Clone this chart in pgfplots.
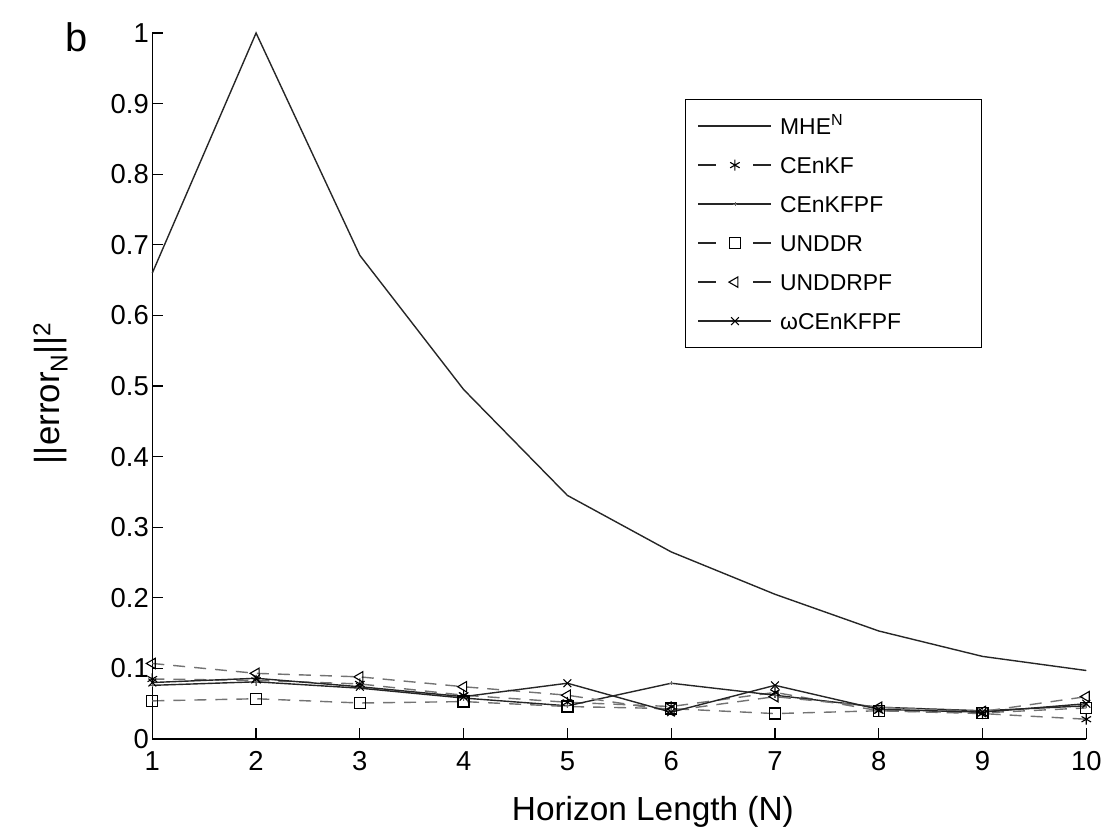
\documentclass[border=0pt]{standalone}
\usepackage{fontspec}
\setmainfont{Liberation Sans}
\usepackage{pgfplots}
\pgfplotsset{compat=1.18}
\begin{document}
\begin{tikzpicture}
\begin{axis}[
  scale only axis, width=934bp, height=706bp,
  xmin=1, xmax=10, ymin=0, ymax=1,
  clip=false,
  axis x line*=bottom, axis y line*=left,
  axis line style={black, line width=1.2bp, -},
  xtick={1,2,3,4,5,6,7,8,9,10},
  ytick={0,0.1,0.2,0.3,0.4,0.5,0.6,0.7,0.8,0.9,1},
  yticklabels={0,0.1,0.2,0.3,0.4,0.5,0.6,0.7,0.8,0.9,1},
  tick align=inside, major tick length=11bp,
  tick style={black, line width=1.2bp},
  /pgf/number format/assume math mode=true,
  tick label style={font=\fontsize{27.5}{30}\selectfont},
  xticklabel style={yshift=-9bp},
  xlabel={Horizon Length (N)},
  every axis x label/.style={at={(rel axis cs:0.536,-0.103)}, anchor=center, font=\fontsize{33.5}{38}\selectfont},
  ylabel={||error\textsubscript{N}||\textsuperscript{2}},
  every axis y label/.style={at={(rel axis cs:-0.109,0.49)}, rotate=90, anchor=center, font=\fontsize{35}{38}\selectfont},
  legend style={at={(rel axis cs:0.5705,0.9065)}, anchor=north west, draw=black, line width=1.2bp,
    fill=white, inner xsep=12bp, inner ysep=18.25bp, row sep=22.5bp,
    font=\fontsize{23}{27}\selectfont,
    nodes={inner sep=0pt, text height=16.5bp, text depth=0bp},
    /tikz/every odd column/.append style={column sep=8bp}},
  legend cell align=left,
  legend image code/.code={\draw[mark repeat=2,mark phase=2,#1] plot coordinates {(0bp,0bp)(36.5bp,0bp)(73bp,0bp)};},
]
\addplot[black!85, line width=1.4bp] coordinates {
(1,0.66)(2,1.0)(3,0.685)(4,0.495)(5,0.345)(6,0.265)(7,0.205)(8,0.153)(9,0.117)(10,0.097)};
\addlegendentry{\makebox[189bp][l]{MHE\textsuperscript{N}}}
\addplot[black!55, line width=1.4bp, dash pattern=on 12bp off 9bp, mark=asterisk, mark size=5.5bp, mark options={solid, black, line width=1.1bp},
  legend image post style={black!85, dash pattern=on 18bp off 37bp}] coordinates {
(1,0.085)(2,0.083)(3,0.078)(4,0.062)(5,0.052)(6,0.046)(7,0.066)(8,0.040)(9,0.036)(10,0.028)};
\addlegendentry{\makebox[189bp][l]{CEnKF}}
\addplot[black!85, line width=1.4bp, mark=+, mark size=2bp, mark options={solid, black!60, line width=0.8bp}] coordinates {
(1,0.076)(2,0.081)(3,0.072)(4,0.058)(5,0.047)(6,0.079)(7,0.062)(8,0.045)(9,0.040)(10,0.047)};
\addlegendentry{\makebox[189bp][l]{CEnKFPF}}
\addplot[black!55, line width=1.4bp, dash pattern=on 12bp off 9bp, mark=square, mark size=5.5bp, mark options={solid, black, line width=1.3bp},
  legend image post style={black!85, dash pattern=on 18bp off 37bp}] coordinates {
(1,0.054)(2,0.057)(3,0.051)(4,0.053)(5,0.046)(6,0.043)(7,0.036)(8,0.040)(9,0.037)(10,0.044)};
\addlegendentry{\makebox[189bp][l]{UNDDR}}
\addplot[black!55, line width=1.4bp, dash pattern=on 12bp off 9bp, mark=triangle, mark size=6bp, mark options={solid, black, line width=1.1bp, rotate=90},
  legend image post style={black!85, dash pattern=on 18bp off 37bp}] coordinates {
(1,0.107)(2,0.093)(3,0.088)(4,0.074)(5,0.062)(6,0.040)(7,0.060)(8,0.045)(9,0.039)(10,0.060)};
\addlegendentry{\makebox[189bp][l]{UNDDRPF}}
\addplot[black!85, line width=1.4bp, mark=x, mark size=5.5bp, mark options={solid, black, line width=1.1bp}] coordinates {
(1,0.080)(2,0.086)(3,0.074)(4,0.060)(5,0.079)(6,0.038)(7,0.076)(8,0.042)(9,0.038)(10,0.050)};
\addlegendentry{\makebox[189bp][l]{ωCEnKFPF}}
\node[font=\fontsize{40}{44}\selectfont, anchor=center] at (rel axis cs:-0.081,0.994) {b};
\end{axis}
\pgfresetboundingbox
\useasboundingbox (-152.3bp,-93bp) rectangle (949.7bp,739bp);
\end{tikzpicture}
\end{document}
